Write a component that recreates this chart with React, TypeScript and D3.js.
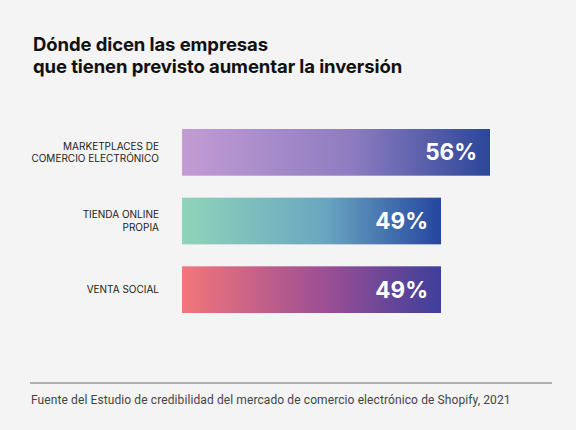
import React from 'react';
import * as d3 from 'd3';

const categories = [
  ['MARKETPLACES DE', 'COMERCIO ELECTRÓNICO'],
  ['TIENDA ONLINE', 'PROPIA'],
  ['VENTA SOCIAL'],
];
const values = [56, 49, 49];
const valueLabels = ['56%', '49%', '49%'];
const gradients = [
  ['#c39cd4', '#8e7cc0', '#2b4699'],
  ['#90d4ba', '#6aa6c0', '#2546a0'],
  ['#f2767a', '#9c4f94', '#3e3f9b'],
];

export default function App() {
  const width = 576;
  const height = 430;
  const MARGIN = { top: 129, left: 182 };

  // bars in the original are not drawn from zero, so the domain starts ~12
  const xScale = d3.scaleLinear().domain([12, 56]).range([0, 308]);
  const yScale = d3
    .scaleBand()
    .domain(categories.map((_, i) => String(i)))
    .range([0, 184])
    .paddingInner(0.32)
    .paddingOuter(0);

  const bars = values.map((v, i) => {
    const y = yScale(String(i)) ?? 0;
    const bw = yScale.bandwidth();
    const w = xScale(v);
    const lines = categories[i];
    return (
      <g key={i} transform={`translate(0,${y})`}>
        <rect x={0} y={0} width={w} height={bw} fill={`url(#grad${i})`} />
        <text
          x={w - 13}
          y={bw / 2 + 8}
          textAnchor="end"
          fontSize={22.5}
          fontWeight={700}
          fill="#ffffff"
          fontFamily="Inter, 'Noto Sans', sans-serif"
        >
          {valueLabels[i]}
        </text>
        {lines.map((l, j) => (
          <text
            key={j}
            x={-23}
            y={bw / 2 + 3.5 + (j - (lines.length - 1) / 2) * 12.5}
            textAnchor="end"
            fontSize={10}
            fill="#222"
            fontFamily="Inter, 'Noto Sans', sans-serif"
          >
            {l}
          </text>
        ))}
      </g>
    );
  });

  return (
    <svg
      width={width}
      height={height}
      style={{ position: 'absolute', left: 0, top: 0, background: '#f4f4f4' }}
    >
      <defs>
        {gradients.map((g, i) => (
          <linearGradient key={i} id={`grad${i}`} x1="0" x2="1" y1="0" y2="0">
            <stop offset="0%" stopColor={g[0]} />
            <stop offset="55%" stopColor={g[1]} />
            <stop offset="100%" stopColor={g[2]} />
          </linearGradient>
        ))}
      </defs>
      <rect width={width} height={height} fill="#f4f4f4" />
      <g fontFamily="Inter, 'Noto Sans', sans-serif" fontWeight={700} fontSize={18.5} fill="#111">
        <text x={33} y={51} letterSpacing={-0.1}>Dónde dicen las empresas</text>
        <text x={33} y={73} letterSpacing={-0.1}>que tienen previsto aumentar la inversión</text>
      </g>
      <g transform={`translate(${MARGIN.left},${MARGIN.top})`}>{bars}</g>
      <line x1={30} x2={552} y1={383} y2={383} stroke="#9a9a9a" strokeWidth={1.3} />
      <text
        x={31}
        y={404}
        fontSize={12}
        letterSpacing={0.1}
        fill="#444"
        fontFamily="Roboto, 'Noto Sans', sans-serif"
      >
        Fuente del Estudio de credibilidad del mercado de comercio electrónico de Shopify, 2021
      </text>
    </svg>
  );
}
